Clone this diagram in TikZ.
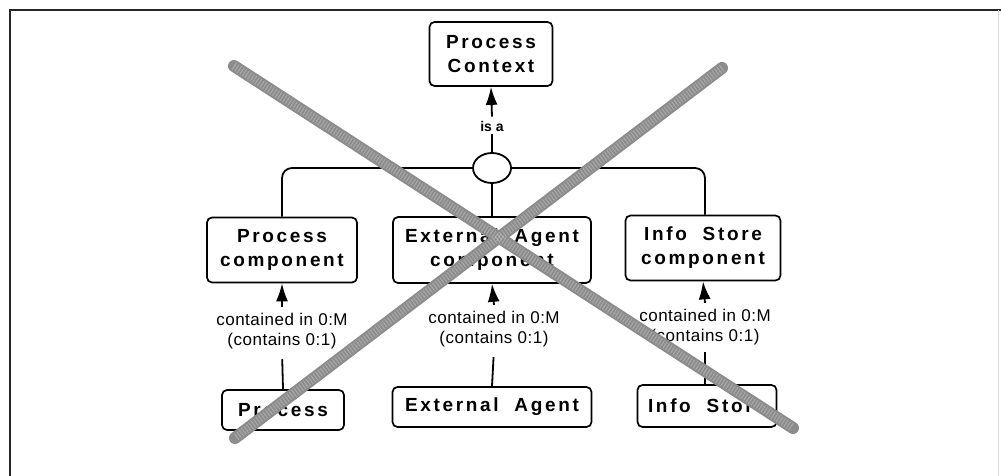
\documentclass[tikz,border=0pt]{standalone}
\usepackage{fontspec}
\setmainfont{Liberation Sans}
\newfontfamily\boxfont[LetterSpace=14]{Liberation Sans}
\newfontfamily\relfont[LetterSpace=3]{Liberation Sans}
\usetikzlibrary{arrows.meta,shapes.geometric}

\tikzset{
  entity/.style={draw, line width=1.7pt, rounded corners=5pt, align=center,
    font=\boxfont\bfseries\fontsize{19}{24}\selectfont, inner sep=0pt},
  rel/.style={align=center, font=\relfont\fontsize{17}{20}\selectfont, inner sep=2pt},
  link/.style={line width=1.8pt},
  uparrow/.style={link, -{Latex[length=18pt,width=12pt]}},
  cross/.style={line width=12pt, black!45, line cap=round},
}

\begin{document}
\begin{tikzpicture}[x=1pt, y=-1pt]
  \useasboundingbox (0,0) rectangle (1001,476);
  \fill[white] (0,0) rectangle (1001,476);

  % frame
  \draw[line width=2pt, black!85] (10,476) -- (10,10) -- (1001,10);
  \draw[line width=0.8pt, black!15] (998,10) -- (998,476);

  % supertype
  \node[entity, minimum width=123pt, minimum height=64pt] (ctx) at (491,54) {Process\\Context};
  \node[font=\bfseries\fontsize{14}{16}\selectfont, inner sep=1pt] (isa) at (492,126) {is a};
  \node[draw, link, ellipse, minimum width=38pt, minimum height=30pt, inner sep=0pt] (gen) at (492,168) {};

  % components
  \node[entity, minimum width=150pt, minimum height=65pt] (pc) at (282,250) {Process\\component};
  \node[entity, minimum width=198pt, minimum height=66pt] (ec) at (492,250) {External\ \ Agent\\component};
  \node[entity, minimum width=155pt, minimum height=65pt] (ic) at (703,248) {Info\ \ Store\\component};

  % relationship labels
  \node[rel] (r1) at (282,331) {contained in 0:M\\(contains 0:1)};
  \node[rel] (r2) at (494,329) {contained in 0:M\\(contains 0:1)};
  \node[rel] (r3) at (705,327) {contained in 0:M\\(contains 0:1)};

  % contained objects
  \node[entity, minimum width=122pt, minimum height=40pt] (p) at (283,410) {Process};
  \node[entity, minimum width=199pt, minimum height=40pt] (e) at (492,407) {External\ \ Agent};
  \node[entity, minimum width=139pt, minimum height=42pt] (i) at (707,406) {Info\ \ Store};

  % generalisation
  \draw[link] (gen.north) -- ([yshift=-2pt]isa.north |- isa.south);
  \draw[uparrow] ([yshift=3pt]isa.north) -- (ctx.south);
  \draw[link, rounded corners=10pt] (gen.west) -| (pc.north);
  \draw[link, rounded corners=10pt] (gen.east) -| ([xshift=2pt]ic.north);
  \draw[link] (gen.south) -- (ec.north);

  % containment
  \draw[uparrow] ([yshift=4pt]r1.north) -- (pc.south);
  \draw[uparrow] ([yshift=4pt]r2.north) -- (ec.south);
  \draw[uparrow] ([yshift=4pt]r3.north) -- (ic.south);
  \draw[link, shorten <=8pt] (r1.south) -- (p.north);
  \draw[link, shorten <=8pt] (r2.south) -- (e.north);
  \draw[link, shorten <=5pt] (r3.south) -- ([xshift=-2pt]i.north);

  % crossed out
  \coordinate (xa) at (234,66);
  \coordinate (xb) at (793,428);
  \coordinate (xc) at (722,68);
  \coordinate (xd) at (235,438);
  \draw[cross] (xa) -- (xb);
  \draw[cross] (xc) -- (xd);
  \draw[line width=8pt, white, opacity=0.25, dash pattern=on 1pt off 2pt] (xa) -- (xb);
  \draw[line width=8pt, white, opacity=0.25, dash pattern=on 1pt off 2pt] (xc) -- (xd);
\end{tikzpicture}
\end{document}
